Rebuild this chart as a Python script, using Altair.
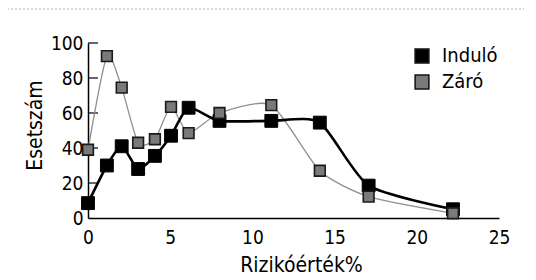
import altair as alt
import pandas as pd

# Data
risk = [0, 1.15, 2.05, 3.05, 4.07, 5.05, 6.12, 8.0, 11.15, 14.1, 17.07, 22.2]
indulo = [8.5, 30, 41, 28, 35.5, 47, 63, 55.5, 55.5, 54.5, 18.5, 5]
zaro = [39, 92.5, 74.5, 43, 45, 63.5, 48.5, 60, 64.5, 27, 12.2, 2.7]
series = ["Induló", "Záró"]
x_ticks = [0, 5, 10, 15, 20, 25]
y_ticks = [0, 20, 40, 60, 80, 100]

FONT = "DejaVu Sans Condensed, DejaVu Sans, sans-serif"

df = pd.DataFrame(
    {"x": risk + risk,
     "y": indulo + zaro,
     "s": [series[0]] * len(risk) + [series[1]] * len(risk)}
)
ticks_df = pd.DataFrame({"y": y_ticks[1:]})

xs = alt.Scale(domain=[0, 25], nice=False, zero=False)
ys = alt.Scale(domain=[0, 100], nice=False)

X = alt.X("x:Q", scale=xs, title="Rizikóérték%",
          axis=alt.Axis(values=x_ticks, tickSize=0, labelPadding=10, labelOverlap=False,
                        labelFlush=False, labelBaseline="top", domainColor="#000",
                        domainWidth=1.5, grid=False,
                        titleX=213, titleY=53, titleBaseline="alphabetic", titleAlign="center"))
Y = alt.Y("y:Q", scale=ys, title="Esetszám",
          axis=alt.Axis(values=y_ticks, tickSize=0, labelPadding=5, labelOverlap=False,
                        labelFlush=False, domainColor="#000", domainWidth=1.5, grid=False,
                        titleX=-53, titleY=82, titleAngle=270, titleAlign="center",
                        titleBaseline="middle"))

base = alt.Chart(df)

line_ind = base.transform_filter(alt.datum.s == series[0]).mark_line(
    color="#000", strokeWidth=2.6, interpolate="cardinal", tension=0.35
).encode(x=X, y=Y)

line_zar = base.transform_filter(alt.datum.s == series[1]).mark_line(
    color="#8f8f8f", strokeWidth=1.3, interpolate="cardinal", tension=0.35
).encode(x=X, y=Y)

fill_scale = alt.Scale(domain=series, range=["#000000", "#7a7a7a"])

pts_ind = base.transform_filter(alt.datum.s == series[0]).mark_point(
    shape="square", filled=True, size=165, opacity=1, stroke="#000", strokeWidth=1
).encode(x=X, y=Y,
         fill=alt.Fill("s:N", scale=fill_scale,
                       legend=alt.Legend(title=None, orient="none", legendX=324, legendY=3,
                                         symbolType="square", symbolSize=190,
                                         symbolStrokeColor="#111", symbolStrokeWidth=1.5,
                                         labelFontSize=20, labelFont=FONT, labelColor="#000",
                                         rowPadding=6, labelOffset=10)))

pts_zar = base.transform_filter(alt.datum.s == series[1]).mark_point(
    shape="square", filled=True, size=115, opacity=1, stroke="#1a1a1a", strokeWidth=1.6
).encode(x=X, y=Y, fill=alt.Fill("s:N", scale=fill_scale))

yticks = alt.Chart(ticks_df).mark_rule(color="#000", strokeWidth=1.2).encode(
    y=Y, x=alt.value(0), x2=alt.value(10)
)

border_top = alt.Chart(ticks_df.head(1)).mark_rule(
    color="#aaa", strokeWidth=1, strokeDash=[2, 2]
).encode(x=alt.value(-81), x2=alt.value(460), y=alt.value(-34))
border_left = alt.Chart(ticks_df.head(1)).mark_rule(
    color="#aaa", strokeWidth=1, strokeDash=[6, 3]
).encode(x=alt.value(-81), y=alt.value(-34), y2=alt.value(235))

chart = alt.layer(border_top, border_left, yticks, line_zar, line_ind, pts_ind, pts_zar).properties(
    width=411, height=175,
    autosize=alt.AutoSizeParams(type="none"),
    padding={"left": 80, "top": 35, "right": 25, "bottom": 60},
).configure_view(stroke=None).configure_axis(
    labelFont=FONT, titleFont=FONT, labelFontSize=19, titleFontSize=21,
    labelColor="#000", titleColor="#000", titleFontWeight="normal"
)

chart.save("out.html", embed_options={"renderer": "svg", "actions": False})
